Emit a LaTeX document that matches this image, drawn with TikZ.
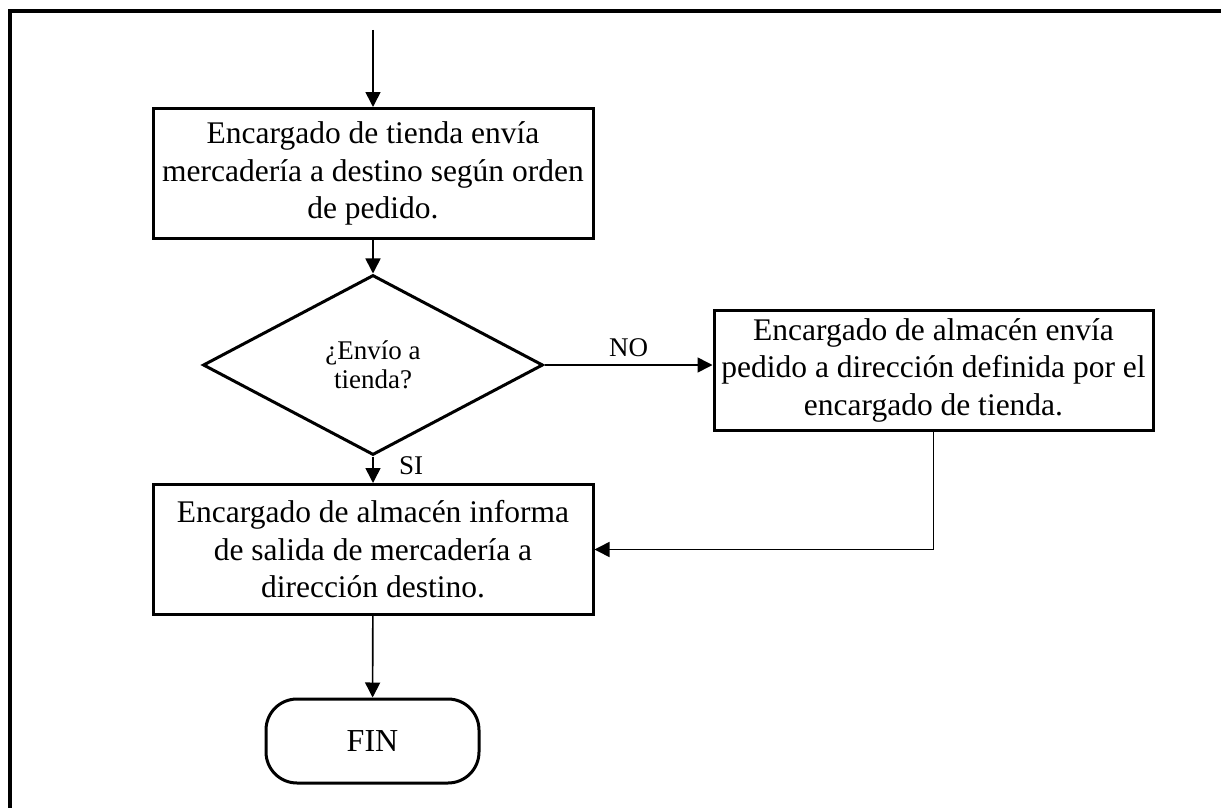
\documentclass[tikz,border=0pt]{standalone}
\usepackage{fontspec}
\setmainfont{Liberation Serif}
\usetikzlibrary{shapes.geometric,arrows.meta}
\begin{document}
\begin{tikzpicture}[x=1pt,y=-1pt,
  stepbox/.style={draw,line width=3pt,rectangle,inner sep=0pt,align=center,
    font=\fontsize{31.5}{37.5}\selectfont},
  decision/.style={draw,line width=3pt,diamond,inner sep=0pt,align=center,
    minimum width=340pt,minimum height=180pt,font=\fontsize{27}{29}\selectfont},
  terminal/.style={draw,line width=3pt,rectangle,rounded corners=31pt,
    minimum width=213pt,minimum height=84pt,font=\fontsize{32}{36}\selectfont},
  flow/.style={line width=1.6pt,-{Triangle[length=15pt,width=15pt]}},
  lbl/.style={font=\fontsize{27}{30}\selectfont}]
\useasboundingbox (0,0) rectangle (1221,808);
% outer frame
\draw[line width=3.2pt] (10,808) -- (10,11) -- (1221,11);

\coordinate (start) at (373,30);
\node[stepbox,minimum width=440pt,minimum height=130pt] (send) at (373,173.5)
  {Encargado de tienda envía\\mercadería a destino según orden\\de pedido.};
\node[decision] (ask) at (373,365) {¿Envío a\\tienda?};
\node[stepbox,minimum width=439pt,minimum height=120pt] (ship) at (933.5,370)
  {Encargado de almacén envía\\pedido a dirección definida por el\\encargado de tienda.};
\node[stepbox,minimum width=440pt,minimum height=130pt] (report) at (373,549.5)
  {Encargado de almacén informa\\de salida de mercadería a\\dirección destino.};
\node[terminal] (fin) at (372.5,741) {FIN};

\draw[flow] (start) -- (send);
\draw[flow] (send) -- (ask);
\draw[flow] (ask.east) -- node[lbl,above=4pt] {NO} (ask.east -| ship.west);
\draw[flow] (ask.south) -- node[lbl,right=22pt,pos=0.35] {SI} (report.north);
\draw[flow] (ship.south) |- (report.east);
\draw[flow] (report) -- (fin);
\end{tikzpicture}
\end{document}
